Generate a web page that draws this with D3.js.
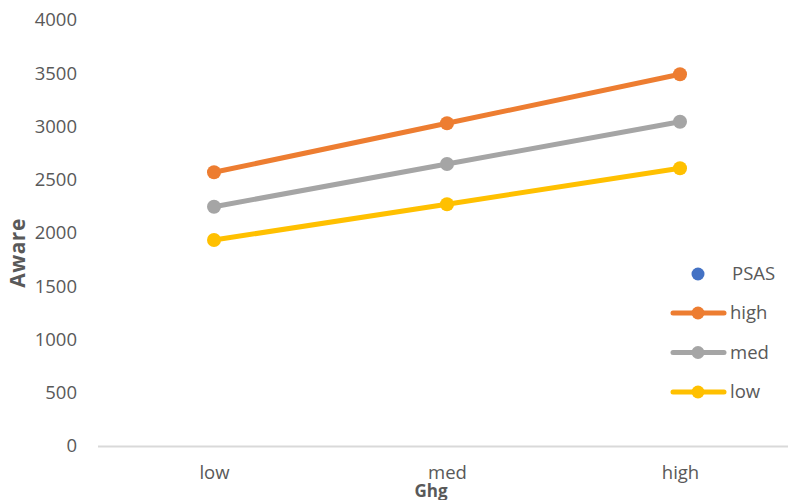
<!DOCTYPE html>
<html><head><meta charset="utf-8">
<script src="https://cdn.jsdelivr.net/npm/d3@7"></script>
<style>body{margin:0;background:#fff}svg{display:block;font-family:"Open Sans",sans-serif}</style>
</head><body><svg id="c" width="788" height="500"></svg>
<script>
const categories = ["low","med","high"];
const seriesNames = ["high","med","low"];
const highValues = [2570, 3030, 3490];
const medValues = [2247, 2648, 3045];
const lowValues = [1934, 2270, 2608];
const yTicks = [0,500,1000,1500,2000,2500,3000,3500,4000];
const colors = {high:"#ED7D31", med:"#A5A5A5", low:"#FFC000", PSAS:"#4472C4"};
const series = [
  {name:"high", values:highValues},
  {name:"med", values:medValues},
  {name:"low", values:lowValues}
];
const svg = d3.select("#c");
const x = d3.scalePoint().domain(categories).range([97.5, 796.5]).padding(0.5);
const y = d3.scaleLinear().domain([0,4000]).range([446,20]);
const txt = "#595959";
const fs = "18.5px";
// y tick labels
const yAxis = d3.axisLeft(y).tickValues(yTicks).tickFormat(d3.format("d")).tickSize(0).tickPadding(0);
const gy = svg.append("g").attr("transform","translate(77,0)").call(yAxis);
gy.select(".domain").remove();
gy.selectAll("text").attr("fill",txt).style("font-size",fs).style("font-family","'Open Sans'");
// x axis
const xAxis = d3.axisBottom(x).tickSize(0).tickPadding(0);
const gx = svg.append("g").attr("transform","translate(0,446)").call(xAxis);
gx.select(".domain").remove();
gx.selectAll("text").attr("fill",txt).attr("dy",null).attr("y",33).style("font-size",fs).style("font-family","'Open Sans'");
svg.append("line").attr("x1",98).attr("x2",788).attr("y1",446.5).attr("y2",446.5).attr("stroke","#d9d9d9").attr("stroke-width",2);
// axis titles
svg.append("text").attr("transform","translate(25,253) rotate(-90)").attr("text-anchor","middle")
  .attr("fill",txt).style("font-weight","bold").style("font-size","21px").style("letter-spacing","0.5px").text("Aware");
svg.append("text").attr("x",431).attr("y",497).attr("text-anchor","middle")
  .attr("fill",txt).style("font-weight","bold").style("font-size","17px").text("Ghg");
// lines
const line = d3.line().x((d,i)=>x(categories[i])).y(d=>y(d));
series.slice().reverse().forEach(s=>{
  svg.append("path").attr("d",line(s.values)).attr("fill","none").attr("stroke",colors[s.name]).attr("stroke-width",5).attr("stroke-linecap","round");
  svg.selectAll(null).data(s.values).enter().append("circle")
    .attr("cx",(d,i)=>x(categories[i])).attr("cy",d=>y(d)).attr("r",7).attr("fill",colors[s.name]);
});
// legend
const lg = svg.append("g");
lg.append("circle").attr("cx",698).attr("cy",274).attr("r",6.5).attr("fill",colors.PSAS);
lg.append("text").attr("x",732).attr("y",274).attr("dy","0.35em").attr("fill",txt).style("font-size",fs).text("PSAS");
seriesNames.forEach((n,i)=>{
  const yy = 313 + i*39.5;
  lg.append("line").attr("x1",673).attr("x2",724).attr("y1",yy).attr("y2",yy).attr("stroke",colors[n]).attr("stroke-width",5).attr("stroke-linecap","round");
  lg.append("circle").attr("cx",698).attr("cy",yy).attr("r",6.5).attr("fill",colors[n]);
  lg.append("text").attr("x",730).attr("y",yy).attr("dy","0.35em").attr("fill",txt).style("font-size",fs).text(n);
});
</script></body></html>
